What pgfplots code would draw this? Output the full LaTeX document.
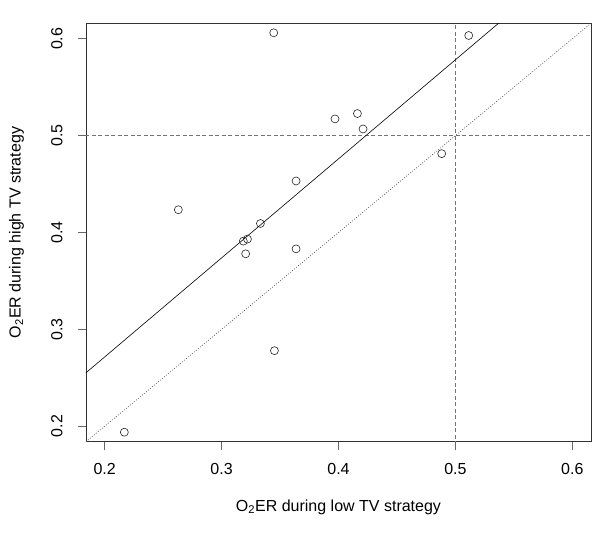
\documentclass[border=0pt]{standalone}
\usepackage{pgfplots}
\pgfplotsset{compat=1.18}
\usepackage{fontspec}
\setmainfont{Liberation Sans}
\begin{document}
\begin{tikzpicture}
\begin{axis}[
  at={(0,0)}, anchor=south west,
  scale only axis,
  width=505pt, height=418.4pt,
  xmin=0.184, xmax=0.616, ymin=0.184, ymax=0.616,
  xtick={0.2,0.3,0.4,0.5,0.6}, ytick={0.2,0.3,0.4,0.5,0.6},
  /pgf/number format/assume math mode=true,
  /pgf/number format/fixed, /pgf/number format/precision=1,
  /pgf/number format/fixed zerofill,
  tick align=outside, major tick length=8pt,
  tick style={black!60, line width=0.6pt},
  xtick pos=bottom, ytick pos=left,
  axis line style={black!80, line width=0.6pt},
  font=\fontsize{16}{19}\selectfont,
  xticklabel style={anchor=north, yshift=-10pt},
  yticklabel style={rotate=90, anchor=south, yshift=12pt},
  xlabel={O\textsubscript{2}ER during low TV strategy},
  ylabel={O\textsubscript{2}ER during high TV strategy},
  xlabel style={at={(axis description cs:0.5,-0.156)}, anchor=center},
  ylabel style={at={(axis description cs:-0.1376,0.5)}, anchor=center, rotate=0},
  clip=true,
]
% reference lines
\addplot[black!55, line width=0.6pt, dash pattern=on 4pt off 2.5pt] coordinates {(0.5,0.1) (0.5,0.7)};
\addplot[black!55, line width=0.6pt, dash pattern=on 4pt off 2.5pt] coordinates {(0.1,0.5) (0.7,0.5)};
\addplot[black!65, line width=0.6pt, dash pattern=on 1pt off 1.6pt] coordinates {(0.1,0.1) (0.7,0.7)};
% regression line
\addplot[black, line width=0.6pt] coordinates {(0.1,0.16926) (0.7,0.78282)};
% data
\addplot[only marks, mark=o, mark size=4pt, mark options={black!85, line width=0.6pt}] coordinates {
(0.3446,0.6062)
(0.2630,0.4235)
(0.3970,0.5173)
(0.4162,0.5228)
(0.4210,0.5069)
(0.3637,0.4532)
(0.3332,0.4093)
(0.3186,0.3911)
(0.3221,0.3932)
(0.3637,0.3831)
(0.3206,0.3780)
(0.3452,0.2780)
(0.2168,0.1938)
(0.5114,0.6034)
(0.4883,0.4814)
};
\end{axis}
\pgfresetboundingbox
\path[use as bounding box] (-86pt,-94.3pt) rectangle (520pt,441.7pt);
\end{tikzpicture}
\end{document}
